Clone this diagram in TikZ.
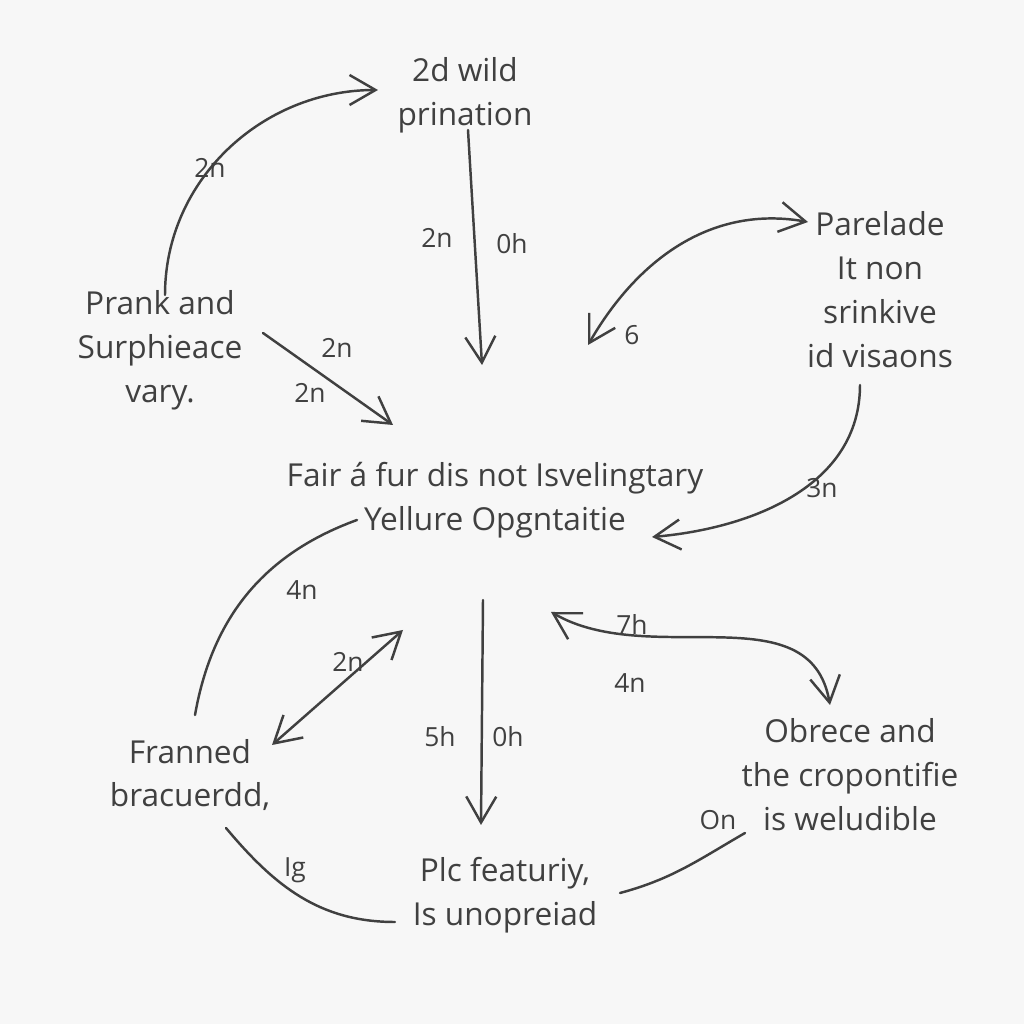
\documentclass[tikz,border=0pt]{standalone}
\usepackage{fontspec}
\setmainfont{Open Sans}
\usetikzlibrary{arrows.meta}
\tikzset{
  txt/.style={align=center,font=\fontsize{9}{12.5}\selectfont,text=black!75},
  lbl/.style={font=\fontsize{7.5}{9}\selectfont,text=black!75},
  con/.style={draw=black!75,line width=0.7pt,line cap=round},
  arr/.style={con,-{Straight Barb[length=2.6mm,width=3mm]}},
  darr/.style={con,{Straight Barb[length=2.6mm,width=3mm]}-{Straight Barb[length=2.6mm,width=3mm]}}
}
\begin{document}
\begin{tikzpicture}
\fill[white!97!black] (0,0) rectangle (10.24,10.24);
\useasboundingbox (0,0) rectangle (10.24,10.24);
% nodes
\node[txt] (top) at (4.65,9.29) {2d wild\\prination};
\node[txt] (left) at (1.6,6.74) {Prank and\\Surphieace\\vary.};
\node[txt] (right) at (8.8,7.34) {Parelade\\It non\\srinkive\\id visaons};
\node[txt] (mid) at (4.95,5.24) {Fair á fur dis not Isvelingtary\\Yellure Opgntaitie};
\node[txt] (ll) at (1.9,2.49) {Franned\\bracuerdd,};
\node[txt] (lr) at (8.5,2.49) {Obrece and\\the cropontifie\\is weludible};
\node[txt] (bot) at (5.05,1.29) {Plc featuriy,\\Is unopreiad};
% connector ends
\coordinate (a1) at (1.65,7.29); \coordinate (a2) at (3.78,9.34);
\coordinate (b1) at (4.68,8.94); \coordinate (b2) at (4.82,6.59);
\coordinate (c1) at (8.08,8.02); \coordinate (c2) at (5.88,6.79);
\coordinate (d1) at (2.63,6.91); \coordinate (d2) at (3.93,5.99);
\coordinate (e1) at (8.60,6.39); \coordinate (e2) at (6.52,4.87);
\coordinate (f1) at (3.57,5.04); \coordinate (f2) at (1.95,3.09);
\coordinate (g1) at (4.03,3.94); \coordinate (g2) at (2.72,2.79);
\coordinate (h1) at (4.83,4.24); \coordinate (h2) at (4.81,1.99);
\coordinate (i1) at (5.51,4.12); \coordinate (i2) at (8.30,3.19);
\coordinate (j1) at (2.26,1.96); \coordinate (j2) at (3.95,1.02);
\coordinate (k1) at (6.20,1.31); \coordinate (k2) at (7.45,1.91);
% connectors
\draw[arr] (a1) to[out=90,in=180] (a2);
\draw[arr] (b1) -- (b2);
\draw[darr] (c1) to[out=170,in=60] (c2);
\draw[arr] (d1) -- (d2);
\draw[arr] (e1) to[out=-90,in=5] (e2);
\draw[con] (f1) to[out=200,in=80] (f2);
\draw[darr] (g1) -- (g2);
\draw[arr] (h1) -- (h2);
\draw[darr] (i1) to[out=-30,in=100] (i2);
\draw[con] (j1) to[out=-50,in=180] (j2);
\draw[con] (k1) to[out=15,in=210] (k2);
% labels
\node[lbl] at (2.10,8.56) {2n};
\node[lbl] at (4.37,7.86) {2n};
\node[lbl] at (5.12,7.80) {0h};
\node[lbl] at (6.32,6.89) {6};
\node[lbl] at (3.37,6.76) {2n};
\node[lbl] at (3.10,6.31) {2n};
\node[lbl] at (8.22,5.36) {3n};
\node[lbl] at (3.02,4.34) {4n};
\node[lbl] at (3.48,3.62) {2n};
\node[lbl] at (4.40,2.87) {5h};
\node[lbl] at (5.08,2.87) {0h};
\node[lbl] at (6.32,4.00) {7h};
\node[lbl] at (6.30,3.41) {4n};
\node[lbl] at (2.95,1.54) {Ig};
\node[lbl] at (7.18,2.04) {On};
\end{tikzpicture}
\end{document}
